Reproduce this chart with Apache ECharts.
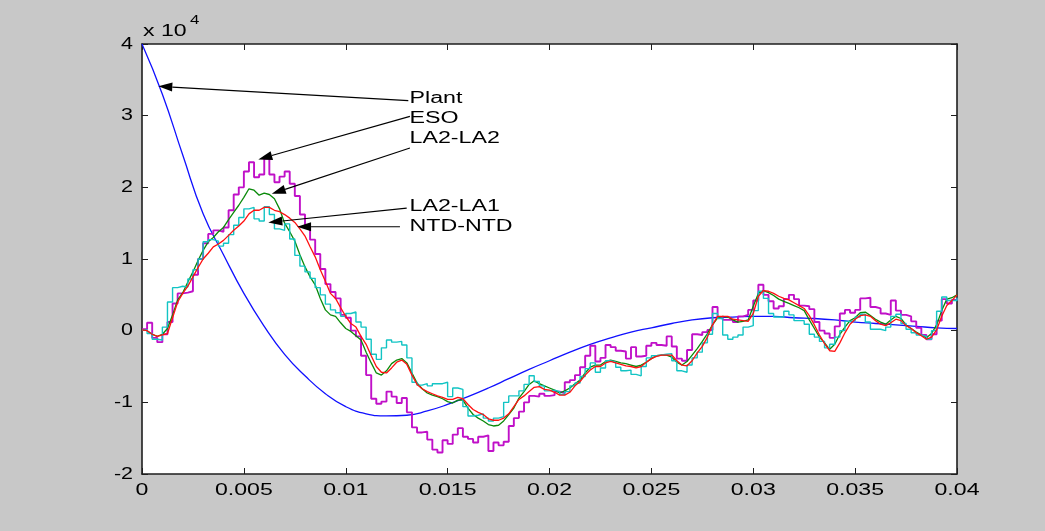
<!DOCTYPE html>
<html>
<head>
<meta charset="utf-8">
<script src="https://cdn.jsdelivr.net/npm/echarts@6/dist/echarts.min.js"></script>
<style>
  html, body { margin: 0; padding: 0; background: #c8c8c8; }
  #chart { width: 1045px; height: 531px; }
</style>
</head>
<body>
<div id="chart"></div>
<script>
// Sampling intervals (seconds) of the recorded signals
const SAMPLE_STEP = 0.00025;
const PLANT_STEP = 0.001;

// Plant response (x 10^4), sampled every PLANT_STEP
const plant = [4.00, 3.30, 2.45, 1.63, 1.06, 0.52, 0.06, -0.33, -0.63, -0.88,
  -1.06, -1.16, -1.19, -1.18, -1.12, -1.03, -0.92, -0.80, -0.67, -0.54,
  -0.42, -0.30, -0.19, -0.10, -0.02, 0.04, 0.10, 0.15, 0.18, 0.19,
  0.20, 0.20, 0.18, 0.17, 0.15, 0.12, 0.10, 0.08, 0.06, 0.04, 0.03];

// Estimates (x 10^4), sampled every SAMPLE_STEP
const eso = [0.02, 0.11, -0.10, -0.16, -0.05, 0.12, 0.38, 0.52, 0.53, 0.55,
  0.78, 1.00, 1.22, 1.35, 1.40, 1.38, 1.44, 1.68, 1.90, 2.00,
  2.22, 2.35, 2.14, 2.18, 2.40, 2.18, 2.07, 2.15, 2.22, 2.05,
  1.88, 1.62, 1.45, 1.27, 1.07, 0.86, 0.65, 0.54, 0.45, 0.22,
  0.18, 0.00, -0.08, -0.35, -0.62, -0.95, -1.02, -0.99, -0.85, -0.92,
  -1.01, -0.94, -1.14, -1.35, -1.42, -1.41, -1.52, -1.66, -1.70, -1.53,
  -1.58, -1.45, -1.36, -1.48, -1.51, -1.56, -1.48, -1.46, -1.68, -1.56,
  -1.60, -1.55, -1.33, -1.22, -1.13, -1.00, -0.91, -0.92, -0.88, -0.91,
  -0.90, -0.85, -0.87, -0.72, -0.69, -0.62, -0.51, -0.35, -0.21, -0.43,
  -0.38, -0.20, -0.23, -0.28, -0.29, -0.39, -0.23, -0.36, -0.35, -0.21,
  -0.17, -0.20, -0.21, -0.08, -0.22, -0.39, -0.42, -0.27, -0.05, -0.06,
  -0.02, 0.01, 0.33, 0.19, 0.15, 0.15, 0.12, 0.20, 0.22, 0.29,
  0.42, 0.64, 0.50, 0.41, 0.31, 0.34, 0.44, 0.50, 0.44, 0.35,
  0.34, 0.30, 0.12, 0.00, -0.04, -0.10, 0.06, 0.24, 0.29, 0.25,
  0.29, 0.45, 0.46, 0.33, 0.31, 0.24, 0.22, 0.42, 0.28, 0.22,
  0.20, 0.13, 0.04, -0.06, -0.12, -0.05, 0.14, 0.44, 0.38, 0.43,
  0.45];

const la2la2 = [0.01, 0.00, -0.05, -0.08, -0.05, 0.03, 0.22, 0.43, 0.53, 0.68,
  0.82, 0.98, 1.12, 1.24, 1.30, 1.38, 1.44, 1.55, 1.65, 1.75,
  1.86, 1.98, 1.96, 1.89, 1.92, 1.90, 1.84, 1.70, 1.50, 1.38,
  1.25, 1.06, 0.89, 0.75, 0.64, 0.45, 0.29, 0.22, 0.20, 0.11,
  0.03, -0.01, -0.07, -0.13, -0.30, -0.45, -0.59, -0.62, -0.56, -0.46,
  -0.41, -0.39, -0.45, -0.59, -0.73, -0.81, -0.87, -0.90, -0.92, -0.95,
  -0.99, -1.01, -0.97, -0.97, -1.08, -1.17, -1.22, -1.26, -1.31, -1.33,
  -1.32, -1.26, -1.17, -1.08, -0.94, -0.85, -0.75, -0.70, -0.74, -0.77,
  -0.80, -0.83, -0.87, -0.84, -0.80, -0.74, -0.69, -0.59, -0.51, -0.48,
  -0.48, -0.43, -0.41, -0.43, -0.45, -0.46, -0.48, -0.50, -0.48, -0.44,
  -0.39, -0.35, -0.34, -0.34, -0.37, -0.44, -0.48, -0.43, -0.34, -0.25,
  -0.15, -0.04, 0.08, 0.18, 0.20, 0.19, 0.15, 0.12, 0.13, 0.15,
  0.34, 0.52, 0.56, 0.53, 0.49, 0.44, 0.41, 0.38, 0.35, 0.32,
  0.28, 0.15, 0.03, -0.09, -0.17, -0.26, -0.19, -0.05, 0.05, 0.14,
  0.18, 0.25, 0.26, 0.21, 0.16, 0.12, 0.09, 0.15, 0.20, 0.17,
  0.08, 0.03, -0.02, -0.06, -0.10, -0.04, 0.08, 0.28, 0.44, 0.46,
  0.50];

const la2la1 = [0.01, -0.04, -0.12, -0.13, 0.05, 0.40, 0.60, 0.62, 0.61, 0.72,
  0.85, 1.00, 1.24, 1.27, 1.25, 1.18, 1.22, 1.34, 1.47, 1.58,
  1.70, 1.72, 1.56, 1.53, 1.73, 1.62, 1.42, 1.40, 1.49, 1.28,
  1.05, 0.90, 0.82, 0.73, 0.60, 0.50, 0.37, 0.29, 0.25, 0.20,
  0.24, 0.26, 0.12, 0.05, -0.12, -0.33, -0.40, -0.24, -0.13, -0.16,
  -0.15, -0.20, -0.38, -0.72, -0.76, -0.74, -0.77, -0.74, -0.74, -0.72,
  -0.92, -0.80, -0.82, -1.06, -1.19, -1.18, -1.16, -1.22, -1.26, -1.22,
  -1.20, -1.00, -0.91, -0.91, -0.84, -0.75, -0.63, -0.71, -0.77, -0.84,
  -0.83, -0.85, -0.89, -0.85, -0.77, -0.73, -0.64, -0.53, -0.45, -0.58,
  -0.52, -0.42, -0.44, -0.51, -0.56, -0.55, -0.61, -0.63, -0.50, -0.38,
  -0.35, -0.34, -0.33, -0.32, -0.42, -0.56, -0.58, -0.48, -0.38, -0.30,
  -0.17, -0.05, 0.24, 0.17, -0.06, -0.12, -0.09, -0.06, 0.05, 0.07,
  0.28, 0.55, 0.45, 0.24, 0.19, 0.19, 0.27, 0.22, 0.14, 0.14,
  0.09, -0.05, -0.09, -0.15, -0.24, -0.19, -0.09, 0.00, 0.13, 0.14,
  0.19, 0.23, 0.12, 0.02, 0.02, 0.00, 0.05, 0.20, 0.23, 0.10,
  0.02, -0.03, -0.06, -0.08, -0.12, 0.00, 0.27, 0.47, 0.42, 0.42,
  0.46];

const ntdntd = [0.01, 0.00, -0.05, -0.08, -0.06, -0.04, 0.18, 0.40, 0.52, 0.62,
  0.75, 0.88, 1.00, 1.08, 1.17, 1.21, 1.26, 1.33, 1.40, 1.46,
  1.53, 1.63, 1.68, 1.68, 1.72, 1.72, 1.68, 1.66, 1.62, 1.57,
  1.51, 1.42, 1.32, 1.17, 1.03, 0.85, 0.69, 0.52, 0.45, 0.32,
  0.20, 0.10, 0.05, -0.08, -0.19, -0.35, -0.50, -0.58, -0.59, -0.52,
  -0.44, -0.41, -0.47, -0.62, -0.75, -0.81, -0.85, -0.88, -0.91, -0.93,
  -0.96, -0.96, -0.93, -0.95, -1.03, -1.10, -1.14, -1.17, -1.23, -1.25,
  -1.25, -1.22, -1.16, -1.06, -0.96, -0.91, -0.85, -0.79, -0.78, -0.82,
  -0.83, -0.86, -0.90, -0.90, -0.86, -0.77, -0.71, -0.62, -0.55, -0.50,
  -0.50, -0.45, -0.43, -0.45, -0.47, -0.49, -0.50, -0.52, -0.50, -0.44,
  -0.39, -0.36, -0.34, -0.34, -0.34, -0.42, -0.48, -0.49, -0.42, -0.31,
  -0.22, -0.09, 0.08, 0.20, 0.20, 0.20, 0.16, 0.15, 0.14, 0.13,
  0.24, 0.48, 0.56, 0.55, 0.52, 0.48, 0.45, 0.43, 0.39, 0.35,
  0.31, 0.21, 0.08, -0.06, -0.18, -0.28, -0.29, -0.17, -0.03, 0.09,
  0.16, 0.21, 0.22, 0.20, 0.14, 0.09, 0.07, 0.11, 0.16, 0.14,
  0.07, 0.03, -0.03, -0.07, -0.12, -0.09, 0.01, 0.20, 0.35, 0.42,
  0.50];

// Axis ticks and their labels
const xTicks = [0, 0.005, 0.01, 0.015, 0.02, 0.025, 0.03, 0.035, 0.04];
const xTickLabels = ['0', '0.005', '0.01', '0.015', '0.02', '0.025', '0.03', '0.035', '0.04'];
const yTicks = [-2, -1, 0, 1, 2, 3, 4];
const yTickLabels = ['-2', '-1', '0', '1', '2', '3', '4'];

// Annotations: label text, arrow tip, arrow tail and label anchor in data units
const annotLabels = ['Plant', 'ESO', 'LA2-LA2', 'LA2-LA1', 'NTD-NTD'];
const arrowTips = [[0.0008, 3.41], [0.00571, 2.39], [0.00637, 1.91], [0.0062, 1.51], [0.00761, 1.45]];
const arrowTails = [[0.01307, 3.21], [0.01315, 2.99], [0.01315, 2.55], [0.01299, 1.71], [0.01266, 1.45]];
const labelAnchors = [[0.01313, 3.245], [0.01313, 2.965], [0.01313, 2.675], [0.01313, 1.728], [0.01313, 1.45]];

function pairs(values, step) {
  return values.map((v, i) => [+(i * step).toFixed(6), v]);
}

const chart = echarts.init(document.getElementById('chart'), null, { renderer: 'canvas' });

const frameColor = '#1e1e1e';
const axisLine = { show: true, onZero: false, lineStyle: { color: frameColor, width: 1.6 } };
const axisTick = { show: true, inside: true, length: 6, lineStyle: { color: frameColor, width: 1 } };

function xAxisAt(position) {
  return {
    type: 'value', position, min: 0, max: 0.04, interval: 0.005,
    axisLine, axisTick, axisLabel: { show: false }, splitLine: { show: false }
  };
}
function yAxisAt(position) {
  return {
    type: 'value', position, min: -2, max: 4, interval: 1,
    axisLine, axisTick, axisLabel: { show: false }, splitLine: { show: false }
  };
}

function lineSeries(name, values, step, color, width, extra) {
  return Object.assign({
    name, type: 'line', data: pairs(values, step),
    xAxisIndex: 0, yAxisIndex: 0,
    showSymbol: false, symbol: 'none', clip: true,
    lineStyle: { color, width }, itemStyle: { color },
    emphasis: { disabled: true }
  }, extra || {});
}

chart.setOption({
  animation: false,
  backgroundColor: '#c8c8c8',
  grid: { left: 142, top: 44, width: 815, height: 430, show: true, backgroundColor: '#ffffff', borderWidth: 0 },
  xAxis: [xAxisAt('bottom'), xAxisAt('top')],
  yAxis: [yAxisAt('left'), yAxisAt('right')],
  series: [
    lineSeries('Plant', plant, PLANT_STEP, '#1010ff', 1.3, { smooth: 0.5 }),
    lineSeries('ESO', eso, SAMPLE_STEP, '#c010c8', 1.9, { step: 'end' }),
    lineSeries('LA2-LA2', la2la2, SAMPLE_STEP, '#0a8a0a', 1.3),
    lineSeries('LA2-LA1', la2la1, SAMPLE_STEP, '#12c4c4', 1.4, { step: 'end' }),
    lineSeries('NTD-NTD', ntdntd, SAMPLE_STEP, '#ff1010', 1.3)
  ]
});

// Text helper: horizontally widened glyphs, anchored at (x, y)
const FONT = '"Liberation Sans", Arial, sans-serif';
function text(x, y, str, size, align, valign, sx) {
  return {
    type: 'text', x, y, scaleX: sx, scaleY: 1, z: 100, silent: true,
    style: {
      text: str, x: 0, y: 0, fill: '#000', font: size + 'px ' + FONT,
      align, verticalAlign: valign, textAlign: align, textVerticalAlign: valign
    }
  };
}

const toPx = (pt) => chart.convertToPixel({ xAxisIndex: 0, yAxisIndex: 0 }, pt);
const graphics = [];

// Tick labels
const bottomY = toPx([0, -2])[1];
const leftX = toPx([0, 0])[0];
xTicks.forEach((v, i) => {
  const p = toPx([v, -2]);
  graphics.push(text(p[0], bottomY + 8, xTickLabels[i], 16.5, 'center', 'top', 1.4));
});
yTicks.forEach((v, i) => {
  const p = toPx([0, v]);
  graphics.push(text(leftX - 9, p[1], yTickLabels[i], 16.5, 'right', 'middle', 1.3));
});

// Exponent marker above the y axis
const topY = toPx([0, 4])[1];
graphics.push(text(leftX + 1, topY - 13, 'x 10', 16.5, 'left', 'middle', 1.4));
graphics.push(text(leftX + 48, topY - 23, '4', 12, 'left', 'middle', 1.4));

// Arrows with labels
annotLabels.forEach((label, i) => {
  const tip = toPx(arrowTips[i]);
  const tail = toPx(arrowTails[i]);
  const dx = tip[0] - tail[0], dy = tip[1] - tail[1];
  const len = Math.hypot(dx, dy);
  const ux = dx / len, uy = dy / len;
  const headLen = 14, headHalf = 4.5;
  const bx = tip[0] - ux * headLen, by = tip[1] - uy * headLen;
  graphics.push({
    type: 'line', z: 100, silent: true,
    shape: { x1: tail[0], y1: tail[1], x2: bx, y2: by },
    style: { stroke: '#000', lineWidth: 1.1 }
  });
  graphics.push({
    type: 'polygon', z: 100, silent: true,
    shape: { points: [[tip[0], tip[1]], [bx - uy * headHalf, by + ux * headHalf], [bx + uy * headHalf, by - ux * headHalf]] },
    style: { fill: '#000' }
  });
  const a = toPx(labelAnchors[i]);
  graphics.push(text(a[0], a[1], label, 16, 'left', 'middle', 1.45));
});

chart.setOption({ graphic: graphics });
</script>
</body>
</html>
